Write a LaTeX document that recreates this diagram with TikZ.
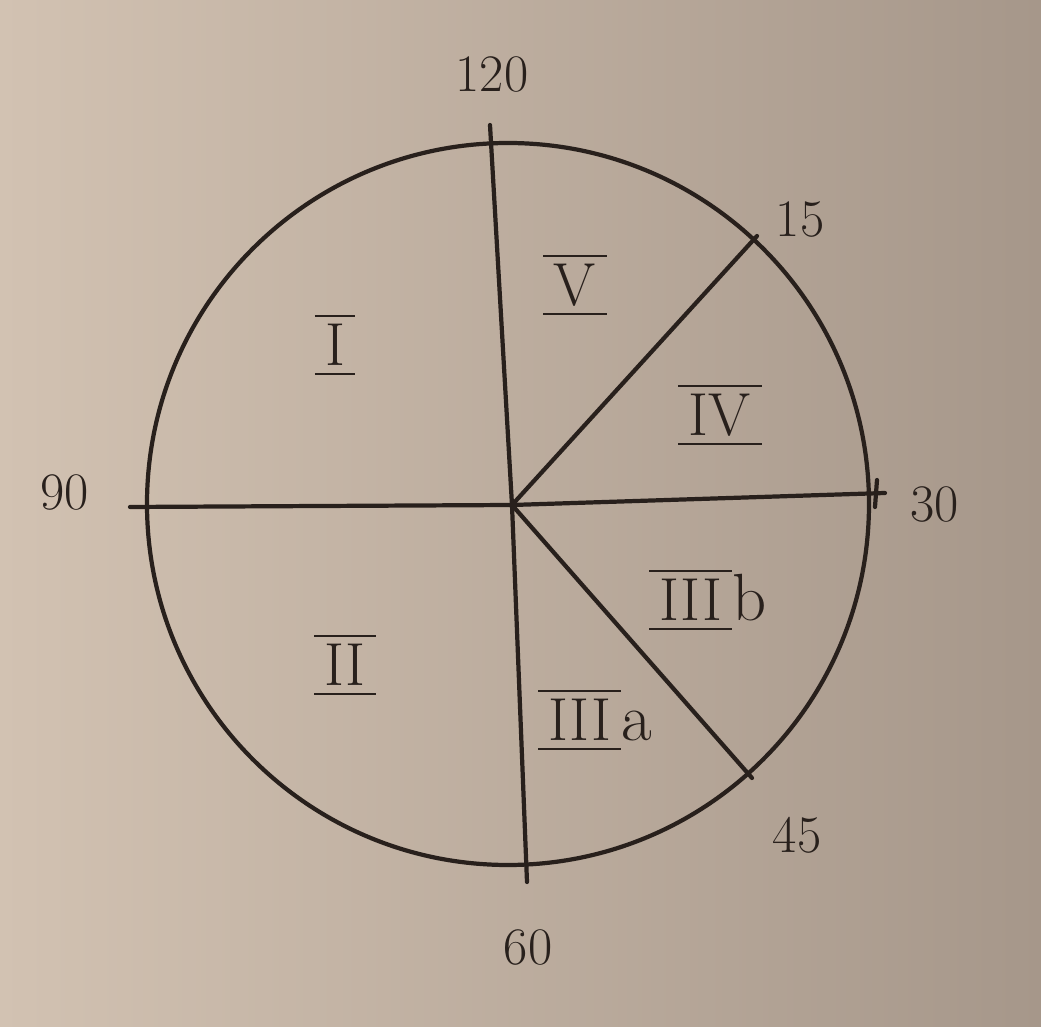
\documentclass[tikz,border=0pt]{standalone}
\usepackage{amsmath}
\definecolor{paperL}{RGB}{210,194,178}
\definecolor{paperR}{RGB}{166,151,138}
\definecolor{ink}{RGB}{40,32,28}
\newcommand{\barred}[1]{\ensuremath{\overline{\underline{\,\mathrm{#1}\,}}}}
\begin{document}
\begin{tikzpicture}[
  inkline/.style={draw=ink, line width=1.2pt, line cap=round},
  deg/.style={text=ink, font=\fontsize{15}{18}\selectfont},
  zone/.style={text=ink, font=\fontsize{19}{22}\selectfont}]
\shade[left color=paperL, right color=paperR] (0,0) rectangle (10.41,10.27);
\useasboundingbox (0,0) rectangle (10.41,10.27);
% circle and spokes
\draw[inkline] (5.08,5.23) circle (3.61);
\coordinate (o) at (5.12,5.22);
\coordinate (top) at (4.90,9.02);
\coordinate (bot) at (5.27,1.45);
\coordinate (lft) at (1.30,5.20);
\coordinate (rgt) at (8.85,5.34);
\coordinate (p15) at (7.57,7.91);
\coordinate (p45) at (7.52,2.49);
\draw[inkline] (top) -- (o) -- (bot);
\draw[inkline] (lft) -- (o) -- (rgt);
\draw[inkline] (o) -- (p15);
\draw[inkline] (o) -- (p45);
\draw[inkline] (8.75,5.20) -- (8.77,5.47);
% degree labels
\node[deg] (d120) at (4.92,9.52) {120};
\node[deg] (d90) at (0.65,5.34) {90};
\node[deg] (d30) at (9.35,5.22) {30};
\node[deg] (d60) at (5.28,0.79) {60};
\node[deg] (d15) at (8.00,8.07) {15};
\node[deg] (d45) at (7.97,1.92) {45};
% zones
\node[zone] (zI) at (3.35,6.82) {\barred{I}};
\node[zone] (zV) at (5.75,7.42) {\barred{V}};
\node[zone] (zIV) at (7.20,6.12) {\barred{IV}};
\node[zone] (zIIIb) at (7.08,4.27) {\barred{III}b};
\node[zone] (zII) at (3.45,3.62) {\barred{II}};
\node[zone] (zIIIa) at (5.95,3.07) {\barred{III}a};
\end{tikzpicture}
\end{document}
